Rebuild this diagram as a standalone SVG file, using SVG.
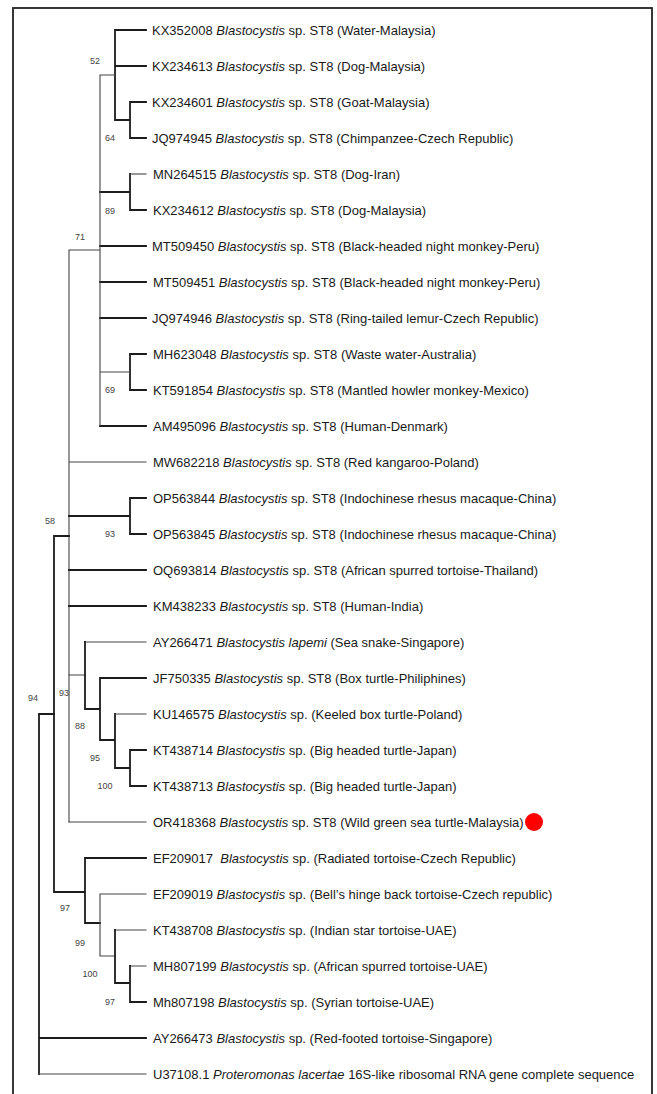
<svg xmlns="http://www.w3.org/2000/svg" width="657" height="1094" viewBox="0 0 657 1094">
<style>
.tk{fill:none;stroke:#1c1c1c;stroke-width:1.8;stroke-linecap:square}
.tn{fill:none;stroke:#444;stroke-width:1.1;stroke-linecap:square}
.lb{font-family:"Liberation Sans",Arial,sans-serif;font-size:13px;fill:#1a1a1a}
.bs{font-family:"Liberation Sans",Arial,sans-serif;font-size:9px;fill:#444;text-anchor:middle}
.it{font-style:italic}
</style>
<rect x="0" y="0" width="657" height="1094" fill="#fff"/>
<rect id="frame" x="13" y="8" width="639" height="1100" fill="none" stroke="#222" stroke-width="1.8"/>
<g id="connectors">
<path class="tk" d="M115,30H146M115,66H146M115,30V120M115,120H130M130,102V138M130,102H146M130,138H146"/>
<path class="tk" d="M100,192H130M130,174V210M130,210H146"/>
<path class="tn" d="M130,174H146"/>
<path class="tk" d="M100,246H146M100,282H146M100,318H146M130,354V390M130,354H146M130,390H146M100,426H146"/>
<path class="tn" d="M100,372H130M100,75H115M100,75V426M69,250H100M69,250V822M69,462H146"/>
<path class="tk" d="M69,516H130M130,498V534M130,498H146M130,534H146M69,570H146M69,606H146"/>
<path class="tn" d="M69,675H85M85,642H146"/>
<path class="tk" d="M85,642V709M85,709H100M100,678V740M100,678H146M100,740H115M115,714V768M115,768H130M130,750V786M130,750H146M130,786H146"/>
<path class="tn" d="M115,714H146M69,822H146"/>
<path class="tk" d="M54,536H69M54,536V892M54,892H85M85,858V923M85,858H146M85,923H100"/>
<path class="tn" d="M100,894V956M100,894H146M100,956H115M115,930H146M130,966H146"/>
<path class="tk" d="M115,930V983M115,983H130M130,966V1002M130,1002H146"/>
<path class="tk" d="M39,714H54M39,714V1074M39,1038H146"/>
<path class="tn" d="M39,1074H146"/>
</g>
<g id="bootstrap">
<text class="bs" x="95" y="64">52</text>
<text class="bs" x="110" y="141">64</text>
<text class="bs" x="110" y="214">89</text>
<text class="bs" x="80" y="240">71</text>
<text class="bs" x="110" y="393">69</text>
<text class="bs" x="50" y="524">58</text>
<text class="bs" x="110" y="537">93</text>
<text class="bs" x="64" y="696">93</text>
<text class="bs" x="33" y="701">94</text>
<text class="bs" x="80" y="729">88</text>
<text class="bs" x="95" y="761">95</text>
<text class="bs" x="105" y="789">100</text>
<text class="bs" x="65" y="911">97</text>
<text class="bs" x="80" y="946">99</text>
<text class="bs" x="90" y="977">100</text>
<text class="bs" x="110" y="1005">97</text>
</g>
<g id="n0"><text class="lb" x="152" y="34.5">KX352008 <tspan class="it">Blastocystis</tspan> sp. ST8 (Water-Malaysia)</text></g>
<g id="n1"><text class="lb" x="152" y="70.5">KX234613 <tspan class="it">Blastocystis</tspan> sp. ST8 (Dog-Malaysia)</text></g>
<g id="n2"><text class="lb" x="152" y="106.5">KX234601 <tspan class="it">Blastocystis</tspan> sp. ST8 (Goat-Malaysia)</text></g>
<g id="n3"><text class="lb" x="152" y="142.5">JQ974945 <tspan class="it">Blastocystis</tspan> sp. ST8 (Chimpanzee-Czech Republic)</text></g>
<g id="n4"><text class="lb" x="153" y="178.5">MN264515 <tspan class="it">Blastocystis</tspan> sp. ST8 (Dog-Iran)</text></g>
<g id="n5"><text class="lb" x="153" y="214.5">KX234612 <tspan class="it">Blastocystis</tspan> sp. ST8 (Dog-Malaysia)</text></g>
<g id="n6"><text class="lb" x="152" y="250.5">MT509450 <tspan class="it">Blastocystis</tspan> sp. ST8 (Black-headed night monkey-Peru)</text></g>
<g id="n7"><text class="lb" x="153" y="286.5">MT509451 <tspan class="it">Blastocystis</tspan> sp. ST8 (Black-headed night monkey-Peru)</text></g>
<g id="n8"><text class="lb" x="152" y="322.5">JQ974946 <tspan class="it">Blastocystis</tspan> sp. ST8 (Ring-tailed lemur-Czech Republic)</text></g>
<g id="n9"><text class="lb" x="153" y="358.5">MH623048 <tspan class="it">Blastocystis</tspan> sp. ST8 (Waste water-Australia)</text></g>
<g id="n10"><text class="lb" x="153" y="394.5">KT591854 <tspan class="it">Blastocystis</tspan> sp. ST8 (Mantled howler monkey-Mexico)</text></g>
<g id="n11"><text class="lb" x="153" y="430.5">AM495096 <tspan class="it">Blastocystis</tspan> sp. ST8 (Human-Denmark)</text></g>
<g id="n12"><text class="lb" x="153" y="466.5">MW682218 <tspan class="it">Blastocystis</tspan> sp. ST8 (Red kangaroo-Poland)</text></g>
<g id="n13"><text class="lb" x="153" y="502.5">OP563844 <tspan class="it">Blastocystis</tspan> sp. ST8 (Indochinese rhesus macaque-China)</text></g>
<g id="n14"><text class="lb" x="153" y="538.5">OP563845 <tspan class="it">Blastocystis</tspan> sp. ST8 (Indochinese rhesus macaque-China)</text></g>
<g id="n15"><text class="lb" x="153" y="574.5">OQ693814 <tspan class="it">Blastocystis</tspan> sp. ST8 (African spurred tortoise-Thailand)</text></g>
<g id="n16"><text class="lb" x="153" y="610.5">KM438233 <tspan class="it">Blastocystis</tspan> sp. ST8 (Human-India)</text></g>
<g id="n17"><text class="lb" x="153" y="646.5">AY266471 <tspan class="it">Blastocystis lapemi</tspan> (Sea snake-Singapore)</text></g>
<g id="n18"><text class="lb" x="153" y="682.5">JF750335 <tspan class="it">Blastocystis</tspan> sp. ST8 (Box turtle-Philiphines)</text></g>
<g id="n19"><text class="lb" x="153" y="718.5">KU146575 <tspan class="it">Blastocystis</tspan> sp. (Keeled box turtle-Poland)</text></g>
<g id="n20"><text class="lb" x="153" y="754.5">KT438714 <tspan class="it">Blastocystis</tspan> sp. (Big headed turtle-Japan)</text></g>
<g id="n21"><text class="lb" x="153" y="790.5">KT438713 <tspan class="it">Blastocystis</tspan> sp. (Big headed turtle-Japan)</text></g>
<g id="n22"><text class="lb" x="153" y="826.5">OR418368 <tspan class="it">Blastocystis</tspan> sp. ST8 (Wild green sea turtle-Malaysia)</text><circle cx="534" cy="822" r="9" fill="#ff0000"/></g>
<g id="n23"><text class="lb" x="153" y="862.5" xml:space="preserve">EF209017  <tspan class="it">Blastocystis</tspan> sp. (Radiated tortoise-Czech Republic)</text></g>
<g id="n24"><text class="lb" x="153" y="898.5">EF209019 <tspan class="it">Blastocystis</tspan> sp. (Bell’s hinge back tortoise-Czech republic)</text></g>
<g id="n25"><text class="lb" x="153" y="934.5">KT438708 <tspan class="it">Blastocystis</tspan> sp. (Indian star tortoise-UAE)</text></g>
<g id="n26"><text class="lb" x="153" y="970.5">MH807199 <tspan class="it">Blastocystis</tspan> sp. (African spurred tortoise-UAE)</text></g>
<g id="n27"><text class="lb" x="153" y="1006.5">Mh807198 <tspan class="it">Blastocystis</tspan> sp. (Syrian tortoise-UAE)</text></g>
<g id="n28"><text class="lb" x="153" y="1042.5">AY266473 <tspan class="it">Blastocystis</tspan> sp. (Red-footed tortoise-Singapore)</text></g>
<g id="n29"><text class="lb" x="153" y="1078.5">U37108.1 <tspan class="it">Proteromonas lacertae</tspan> 16S-like ribosomal RNA gene complete sequence</text></g>
</svg>
